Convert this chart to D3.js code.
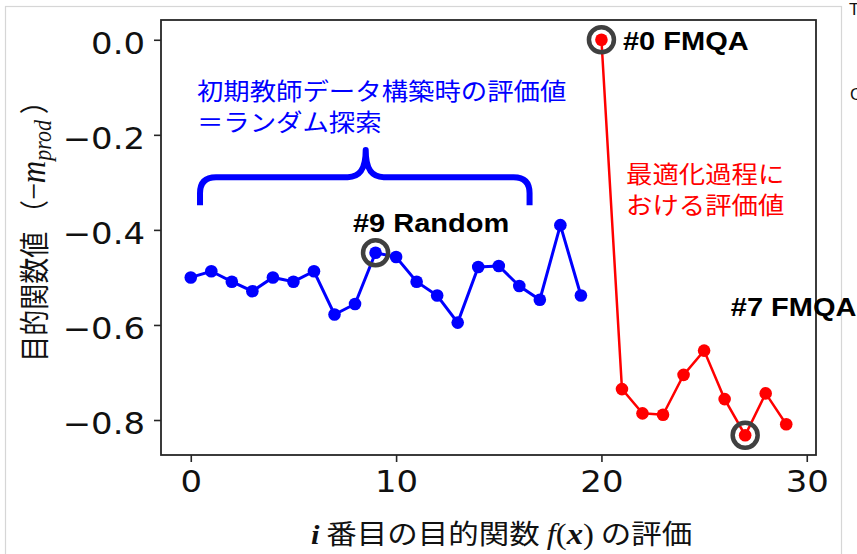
<!DOCTYPE html>
<html>
<head>
<meta charset="utf-8">
<script src="https://cdn.jsdelivr.net/npm/d3@7"></script>
<style>
  body { margin: 0; background: #fff; }
  svg { display: block; }
</style>
</head>
<body>
<svg id="chart" width="857" height="554"></svg>
<script>
// ---- data -------------------------------------------------------------
// evaluations made while building the initial training data (random search)
const randomIdx  = [0, 1, 2, 3, 4, 5, 6, 7, 8, 9, 10, 11, 12, 13, 14, 15, 16, 17, 18, 19];
const randomVals = [-0.500, -0.487, -0.509, -0.529, -0.500, -0.509, -0.487, -0.578, -0.556, -0.448,
                    -0.457, -0.509, -0.538, -0.595, -0.478, -0.476, -0.518, -0.547, -0.390, -0.538];
// evaluations made during the FMQA optimisation loop
const fmqaIdx  = [20, 21, 22, 23, 24, 25, 26, 27, 28, 29];
const fmqaVals = [0.000, -0.735, -0.786, -0.789, -0.705, -0.654, -0.756, -0.832, -0.744, -0.809];

const xTicks = [0, 10, 20, 30];
const yTicks = [0.0, -0.2, -0.4, -0.6, -0.8];

// highlighted evaluations and their labels
const markedIdx    = [9, 20, 27];
const markedLabels = ["#9 Random", "#0 FMQA", "#7 FMQA"];

// ---- layout -------------------------------------------------------------
const svg = d3.select("#chart");
const plot = { left: 161, right: 816, top: 20, bottom: 455 };
const SX = 1.13;           // horizontal stretch applied to the lettering
const blue = "#0000ff", red = "#ff0000";
const tickFont = "'DejaVu Sans', sans-serif";
const cjkFont = "'Noto Sans CJK JP', 'Noto Sans', sans-serif";
const serif = "'Liberation Serif', 'DejaVu Serif', serif";
const boldFont = "'Liberation Sans', Arial, sans-serif";

const allIdx = randomIdx.concat(fmqaIdx);
const allVals = randomVals.concat(fmqaVals);
const [xmin, xmax] = d3.extent(allIdx);
const [ymin, ymax] = d3.extent(allVals);
const xpad = (xmax - xmin) * 0.05, ypad = (ymax - ymin) * 0.05;

const x = d3.scaleLinear().domain([xmin - xpad, xmax + xpad]).range([plot.left, plot.right]);
const y = d3.scaleLinear().domain([ymin - ypad, ymax + ypad]).range([plot.bottom, plot.top]);

// outer page border
svg.append("rect")
  .attr("x", 5.5).attr("y", 6.5).attr("width", 836).attr("height", 560)
  .attr("fill", "none").attr("stroke", "#d6d6d6").attr("stroke-width", 1.2);

// clipped lettering at the right page edge
svg.append("text").attr("x", 849).attr("y", 15)
  .attr("font-family", boldFont).attr("font-size", 17).attr("fill", "#111").text("T");
svg.append("text").attr("x", 850).attr("y", 100)
  .attr("font-family", boldFont).attr("font-size", 17).attr("fill", "#111").text("C");

function stretchText(sel, sx) {
  sel.each(function () {
    const t = d3.select(this);
    const tx = +t.attr("x") || 0;
    t.attr("transform", `translate(${tx},0) scale(${sx || SX},1) translate(${-tx},0)`);
  });
}

// ---- axes -----------------------------------------------------------------
const xAxis = d3.axisBottom(x).tickValues(xTicks).tickFormat(d3.format("d"))
  .tickSize(7).tickPadding(9);
const yAxis = d3.axisLeft(y).tickValues(yTicks).tickFormat(d3.format(".1f"))
  .tickSize(7).tickPadding(9);

const gx = svg.append("g").attr("transform", `translate(0,${plot.bottom})`).call(xAxis);
const gy = svg.append("g").attr("transform", `translate(${plot.left},0)`).call(yAxis);
[gx, gy].forEach(g => {
  g.select(".domain").remove();
  g.selectAll(".tick line").attr("stroke", "#262626").attr("stroke-width", 1.6);
  g.selectAll(".tick text").attr("font-family", tickFont).attr("font-size", 30).attr("fill", "#111");
});
gy.selectAll(".tick text").attr("dy", "0.45em");
stretchText(gx.selectAll(".tick text"));
stretchText(gy.selectAll(".tick text"));

// plot frame
svg.append("rect")
  .attr("x", plot.left).attr("y", plot.top)
  .attr("width", plot.right - plot.left).attr("height", plot.bottom - plot.top)
  .attr("fill", "none").attr("stroke", "#262626").attr("stroke-width", 1.8);

// ---- series ---------------------------------------------------------------
function drawSeries(idx, vals, color, lw) {
  const pts = idx.map((d, i) => [d, vals[i]]);
  svg.append("path").datum(pts)
    .attr("fill", "none").attr("stroke", color).attr("stroke-width", lw)
    .attr("d", d3.line().x(d => x(d[0])).y(d => y(d[1])));
  svg.append("g").selectAll("circle").data(pts).join("circle")
    .attr("cx", d => x(d[0])).attr("cy", d => y(d[1])).attr("r", 6.3)
    .attr("fill", color);
}
drawSeries(randomIdx, randomVals, blue, 3);
drawSeries(fmqaIdx, fmqaVals, red, 2.5);

// rings around the highlighted evaluations
const valueAt = i => allVals[allIdx.indexOf(i)];
svg.append("g").selectAll("circle").data(markedIdx).join("circle")
  .attr("cx", d => x(d)).attr("cy", d => y(valueAt(d))).attr("r", 12.5)
  .attr("fill", "none").attr("stroke", "#404040").attr("stroke-width", 4.5);

// ---- annotations ----------------------------------------------------------
// bracket over the random-search evaluations
const bx0 = x(0.45), bx1 = x(16.5), bxm = x(8.52);
const by0 = y(-0.348), by1 = y(-0.289), byt = y(-0.232);
const r = 16;
const brace = d3.path();
brace.moveTo(bx0, by0);
brace.lineTo(bx0, by1 + r);
brace.quadraticCurveTo(bx0, by1, bx0 + r, by1);
brace.lineTo(bxm - 18, by1);
brace.bezierCurveTo(bxm - 6, by1, bxm, by1 - 8, bxm, byt);
brace.bezierCurveTo(bxm, by1 - 8, bxm + 6, by1, bxm + 18, by1);
brace.lineTo(bx1 - r, by1);
brace.quadraticCurveTo(bx1, by1, bx1, by1 + r);
brace.lineTo(bx1, by0);
svg.append("path").attr("d", brace.toString())
  .attr("fill", "none").attr("stroke", blue).attr("stroke-width", 6)
  .attr("stroke-linejoin", "round");

function note(lines, px, py, color, lineGap) {
  lines.forEach((s, i) => {
    const t = svg.append("text")
      .attr("x", px).attr("y", py + i * lineGap)
      .attr("font-family", cjkFont).attr("font-size", 24).attr("fill", color)
      .text(s);
    stretchText(t, 1.10);
  });
}
note(["初期教師データ構築時の評価値", "＝ランダム探索"], x(0.3), y(-0.126), blue, 31);
note(["最適化過程に", "おける評価値"], x(21.2), y(-0.301), red, 31);

// bold labels of the highlighted evaluations
const labelPos = [[7.9, -0.405], [21.05, -0.021], [26.3, -0.582]];
markedLabels.forEach((s, i) => {
  const t = svg.append("text")
    .attr("x", x(labelPos[i][0])).attr("y", y(labelPos[i][1]))
    .attr("font-family", boldFont).attr("font-weight", "bold").attr("font-size", 25)
    .attr("fill", "#000").text(s);
  stretchText(t, 1.16);
});

// ---- axis titles ----------------------------------------------------------
const xt = svg.append("text").attr("x", 311).attr("y", 544)
  .attr("font-size", 27).attr("fill", "#111").attr("font-family", cjkFont);
xt.append("tspan").attr("font-family", serif).attr("font-style", "italic").attr("font-weight", "bold").text("i");
xt.append("tspan").text(" 番目の目的関数 ");
xt.append("tspan").attr("font-family", serif).attr("font-style", "italic").attr("font-size", 29).text("f");
xt.append("tspan").attr("font-family", serif).attr("font-size", 29).text("(");
xt.append("tspan").attr("font-family", serif).attr("font-style", "italic").attr("font-weight", "bold").attr("font-size", 29).text("x");
xt.append("tspan").attr("font-family", serif).attr("font-size", 29).text(")");
xt.append("tspan").text(" の評価");
stretchText(xt, 1.13);

const yt = svg.append("text")
  .attr("transform", `translate(45,225) scale(${SX},1) rotate(-90)`)
  .attr("text-anchor", "middle")
  .attr("font-size", 26).attr("fill", "#111").attr("font-family", cjkFont);
yt.append("tspan").text("目的関数値 （");
yt.append("tspan").attr("font-family", serif).attr("font-size", 30).text("−");
yt.append("tspan").attr("font-family", serif).attr("font-style", "italic").attr("font-size", 31).text("m");
yt.append("tspan").attr("font-family", serif).attr("font-style", "italic").attr("font-size", 22)
  .attr("dy", 5).text("prod");
yt.append("tspan").attr("dy", -5).text(" ）");
</script>
</body>
</html>
